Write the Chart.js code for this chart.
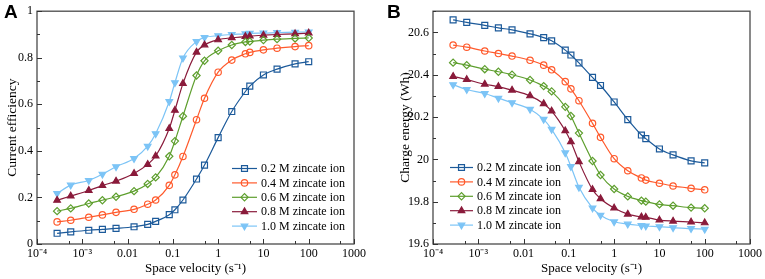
<!DOCTYPE html>
<html>
<head>
<meta charset="utf-8">
<script src="https://cdn.jsdelivr.net/npm/chart.js@4.4.0/dist/chart.umd.min.js"></script>
<style>
    html, body { margin: 0; padding: 0; background: #fff; }
    #wrap { position: relative; width: 765px; height: 279px; overflow: hidden; }
    canvas { position: absolute; top: 0; }
    #chartA { left: 0; }
    #chartB { left: 382px; }
</style>
</head>
<body>
<div id="wrap">
    <canvas id="chartA" width="382" height="279"></canvas>
    <canvas id="chartB" width="383" height="279"></canvas>
</div>
<script>
// space velocity (s^-1), shared by every series
const spaceVelocity = [2.78e-4, 5.56e-4, 1.39e-3, 2.78e-3, 5.56e-3, 0.0139, 0.0278, 0.0417, 0.0833, 0.111, 0.167, 0.333, 0.5, 1, 2, 4, 5, 10, 20, 50, 100];

const seriesLabels = ['0.2 M zincate ion', '0.4 M zincate ion', '0.6 M zincate ion', '0.8 M zincate ion', '1.0 M zincate ion'];
const seriesColors = ['#1c5a9a', '#ff5a2c', '#5e9f2e', '#8a1b3b', '#7cc4f6'];

// panel A: current efficiency
const eff02 = [0.046, 0.052, 0.059, 0.063, 0.067, 0.074, 0.084, 0.097, 0.126, 0.147, 0.189, 0.279, 0.339, 0.457, 0.569, 0.655, 0.678, 0.726, 0.751, 0.774, 0.783];
const eff04 = [0.095, 0.102, 0.115, 0.125, 0.136, 0.149, 0.171, 0.189, 0.252, 0.297, 0.376, 0.534, 0.626, 0.738, 0.790, 0.817, 0.823, 0.834, 0.841, 0.848, 0.852];
const eff06 = [0.141, 0.153, 0.174, 0.188, 0.203, 0.227, 0.258, 0.286, 0.377, 0.442, 0.549, 0.724, 0.787, 0.830, 0.855, 0.868, 0.870, 0.876, 0.880, 0.883, 0.885];
const eff08 = [0.188, 0.206, 0.230, 0.251, 0.270, 0.303, 0.342, 0.378, 0.496, 0.574, 0.689, 0.824, 0.855, 0.877, 0.886, 0.891, 0.893, 0.897, 0.900, 0.903, 0.906];
const eff10 = [0.217, 0.253, 0.273, 0.300, 0.332, 0.367, 0.420, 0.474, 0.612, 0.693, 0.799, 0.870, 0.887, 0.895, 0.900, 0.903, 0.905, 0.906, 0.908, 0.910, 0.911];

// panel B: charge energy (Wh)
const en02 = [20.659, 20.647, 20.633, 20.621, 20.612, 20.593, 20.575, 20.560, 20.516, 20.493, 20.456, 20.387, 20.349, 20.271, 20.188, 20.115, 20.098, 20.049, 20.021, 19.993, 19.983];
const en04 = [20.540, 20.530, 20.512, 20.500, 20.488, 20.468, 20.445, 20.423, 20.367, 20.333, 20.277, 20.170, 20.104, 20.003, 19.946, 19.912, 19.902, 19.887, 19.874, 19.863, 19.856];
const en06 = [20.457, 20.445, 20.426, 20.414, 20.400, 20.375, 20.346, 20.321, 20.248, 20.205, 20.124, 19.992, 19.926, 19.860, 19.825, 19.805, 19.800, 19.787, 19.781, 19.772, 19.769];
const en08 = [20.392, 20.377, 20.355, 20.344, 20.327, 20.300, 20.263, 20.228, 20.135, 20.083, 19.989, 19.857, 19.814, 19.770, 19.741, 19.728, 19.726, 19.713, 19.708, 19.704, 19.700];
const en10 = [20.353, 20.330, 20.311, 20.289, 20.268, 20.237, 20.189, 20.142, 20.031, 19.966, 19.868, 19.770, 19.736, 19.705, 19.694, 19.687, 19.685, 19.682, 19.677, 19.673, 19.670];

// x axis ticks
const xMajorTicks = [1e-4, 1e-3, 0.01, 0.1, 1, 10, 100, 1000];
const xMajorLabels = ['10\u207B\u2074', '10\u207B\u00B3', '0.01', '0.1', '1', '10', '100', '1000'];
const xMinorTicks = [5e-4, 5e-3, 0.05, 0.5, 5, 50, 500];

const serif = '"Liberation Serif", "Times New Roman", serif';
Chart.defaults.font.family = serif;
Chart.defaults.color = '#000';

const markerStyles = [
    { style: 'rect', radius: 4.2, rotation: 0, fill: 'rgba(255,255,255,0)' },
    { style: 'circle', radius: 3.2, rotation: 0, fill: 'rgba(255,255,255,0)' },
    { style: 'rectRot', radius: 3.6, rotation: 0, fill: 'rgba(255,255,255,0)' },
    { style: 'triangle', radius: 3.8, rotation: 0, fill: null },
    { style: 'triangle', radius: 3.8, rotation: 180, fill: null }
];

function buildDatasets(seriesList) {
    return seriesList.map((values, i) => ({
        label: seriesLabels[i],
        data: spaceVelocity.map((x, j) => ({ x: x, y: values[j] })),
        borderColor: seriesColors[i],
        backgroundColor: seriesColors[i],
        borderWidth: 1.2,
        pointStyle: markerStyles[i].style,
        pointRadius: markerStyles[i].radius,
        pointRotation: markerStyles[i].rotation,
        pointBorderWidth: 1.2,
        pointBorderColor: seriesColors[i],
        pointBackgroundColor: markerStyles[i].fill || seriesColors[i],
        cubicInterpolationMode: 'monotone',
        tension: 0.4
    }));
}

// frame + inward tick marks
const framePlugin = {
    id: 'frame',
    afterDraw(chart) {
        const ctx = chart.ctx;
        const a = chart.chartArea;
        ctx.save();
        ctx.strokeStyle = '#4a4a4a';
        ctx.lineWidth = 1.3;
        ctx.strokeRect(a.left, a.top, a.right - a.left, a.bottom - a.top);
        ctx.lineWidth = 1;
        ctx.strokeStyle = '#333';
        const xs = chart.scales.x;
        xs.ticks.forEach((t) => {
            const px = Math.round(xs.getPixelForValue(t.value)) + 0.5;
            const len = t.label ? 5 : 3;
            ctx.beginPath();
            ctx.moveTo(px, a.bottom);
            ctx.lineTo(px, a.bottom - len);
            ctx.stroke();
        });
        const ys = chart.scales.y;
        ys.ticks.forEach((t) => {
            const py = Math.round(ys.getPixelForValue(t.value)) + 0.5;
            const len = t.label ? 5 : 3;
            ctx.beginPath();
            ctx.moveTo(a.left, py);
            ctx.lineTo(a.left + len, py);
            ctx.stroke();
        });
        ctx.restore();
    }
};

// legend drawn inside the plot
const insideLegendPlugin = {
    id: 'insideLegend',
    afterDraw(chart, args, opts) {
        const ctx = chart.ctx;
        ctx.save();
        ctx.font = '12px ' + serif;
        ctx.textBaseline = 'middle';
        chart.data.datasets.forEach((ds, i) => {
            const y = opts.y + i * opts.step;
            ctx.strokeStyle = ds.borderColor;
            ctx.lineWidth = 1.2;
            ctx.beginPath();
            ctx.moveTo(opts.x, y);
            ctx.lineTo(opts.x + opts.len, y);
            ctx.stroke();
            ctx.fillStyle = ds.pointBackgroundColor;
            Chart.helpers.drawPoint(ctx, {
                pointStyle: ds.pointStyle,
                radius: ds.pointRadius,
                rotation: ds.pointRotation,
                borderWidth: 1.2
            }, opts.x + opts.len / 2, y);
            ctx.fillStyle = '#000';
            ctx.fillText(ds.label, opts.x + opts.len + 4, y + 0.5);
        });
        ctx.restore();
    }
};

// panel letter
const panelLabelPlugin = {
    id: 'panelLabel',
    afterDraw(chart, args, opts) {
        const ctx = chart.ctx;
        ctx.save();
        ctx.font = 'bold 19px "Liberation Sans", Arial, sans-serif';
        ctx.fillStyle = '#000';
        ctx.textBaseline = 'top';
        ctx.fillText(opts.text, opts.x, opts.y);
        ctx.restore();
    }
};

function createChart(canvasId, seriesList, yOpts, layout) {
    const ctx = document.getElementById(canvasId).getContext('2d');
    return new Chart(ctx, {
        type: 'line',
        data: { datasets: buildDatasets(seriesList) },
        options: {
            responsive: false,
            animation: false,
            devicePixelRatio: 1,
            layout: { padding: layout.padding },
            plugins: {
                legend: { display: false },
                tooltip: { enabled: false },
                insideLegend: layout.legend,
                panelLabel: layout.panel
            },
            scales: {
                x: {
                    type: 'logarithmic',
                    min: 1e-4,
                    max: 1000,
                    grid: { display: false, drawTicks: false },
                    border: { display: false },
                    afterBuildTicks(scale) {
                        scale.ticks = xMajorTicks.concat(xMinorTicks)
                            .sort((p, q) => p - q)
                            .map(v => ({ value: v }));
                    },
                    afterFit(scale) { scale.height = layout.xHeight; },
                    ticks: {
                        autoSkip: false,
                        maxRotation: 0,
                        padding: 3,
                        font: { size: 12 },
                        callback(value) {
                            const idx = xMajorTicks.findIndex(v => Math.abs(v - value) / v < 1e-6);
                            return idx >= 0 ? xMajorLabels[idx] : '';
                        }
                    },
                    title: {
                        display: true,
                        text: 'Space velocity (s\u207B\u00B9)',
                        font: { size: 13 },
                        padding: { top: 0, bottom: 3 }
                    }
                },
                y: {
                    type: 'linear',
                    min: yOpts.min,
                    max: yOpts.max,
                    grid: { display: false, drawTicks: false },
                    border: { display: false },
                    afterFit(scale) { scale.width = layout.yWidth; },
                    ticks: {
                        stepSize: 0.1,
                        autoSkip: false,
                        padding: 4,
                        font: { size: 12 },
                        callback(value) {
                            const tenths = Math.round(value * 10);
                            return tenths % 2 === 0 ? String(Number((tenths / 10).toFixed(1))) : '';
                        }
                    },
                    title: {
                        display: true,
                        text: yOpts.title,
                        font: { size: 13.5 },
                        padding: { top: layout.yTitlePad, bottom: 0 }
                    }
                }
            }
        },
        plugins: [framePlugin, insideLegendPlugin, panelLabelPlugin]
    });
}

createChart('chartA', [eff02, eff04, eff06, eff08, eff10],
    { min: 0, max: 1, title: 'Current efficiency' },
    {
        padding: { left: 0, right: 28, top: 6, bottom: 0 },
        xHeight: 35,
        yWidth: 37,
        yTitlePad: 4,
        legend: { x: 232, y: 168.5, step: 14.4, len: 25 },
        panel: { text: 'A', x: 4, y: 3 }
    });

createChart('chartB', [en02, en04, en06, en08, en10],
    { min: 19.6, max: 20.7, title: 'Charge energy (Wh)' },
    {
        padding: { left: 0, right: 13, top: 6, bottom: 0 },
        xHeight: 35,
        yWidth: 51,
        yTitlePad: 15,
        legend: { x: 68, y: 167.5, step: 14.4, len: 23 },
        panel: { text: 'B', x: 5, y: 3 }
    });
</script>
</body>
</html>
